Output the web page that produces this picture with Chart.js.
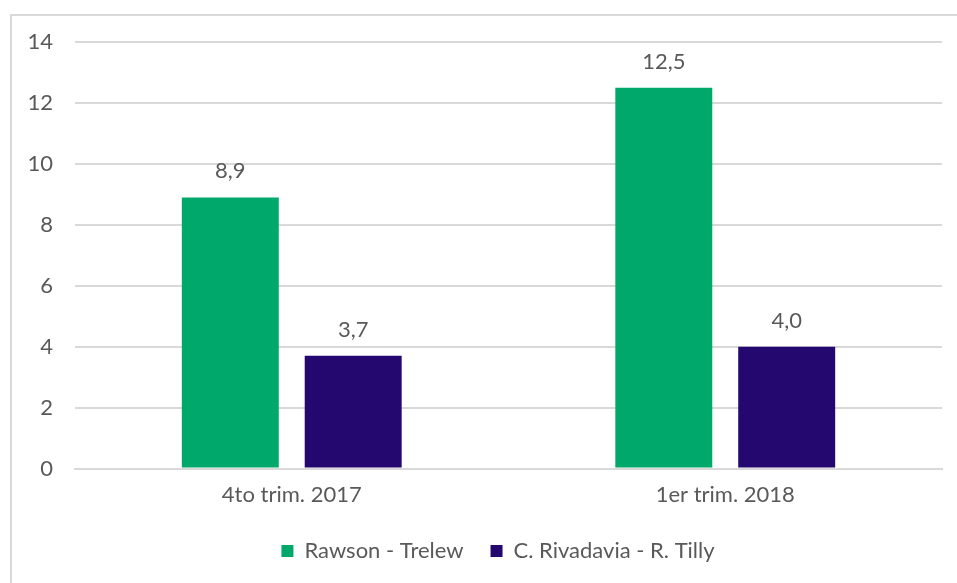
<!DOCTYPE html>
<html>
<head>
<meta charset="utf-8">
<script src="https://cdn.jsdelivr.net/npm/chart.js@4/dist/chart.umd.min.js"></script>
<style>
    body { margin: 0; background: #fff; overflow: hidden; }
    #frame { position: absolute; left: 10px; top: 14px; width: 960px; height: 590px; border: 2px solid #d9d9d9; }
    #wrap { position: absolute; left: 0; top: 0; width: 957px; height: 583px; }
</style>
</head>
<body>
<div id="frame"></div>
<div id="wrap"><canvas id="myChart"></canvas></div>
<script>
// chart data
const categories = ['4to trim. 2017', '1er trim. 2018'];
const seriesNames = ['Rawson - Trelew', 'C. Rivadavia - R. Tilly'];
const rawsonTrelew = [8.9, 12.5];
const rivadaviaTilly = [3.7, 4.0];
const seriesColors = ['#00a96b', '#240870'];

const textGray = '#595959';
const fontFamily = 'Lato, "Open Sans", sans-serif';
const fontSize = 22;

//value labels above bars, comma decimal
const valueLabels = {
    id: 'valueLabels',
    afterLayout(chart) {
        //legend sits a bit right of center in the original
        chart.legend.left += 22;
        chart.legend.right += 22;
    },
    afterDatasetsDraw(chart) {
        let ctx = chart.ctx;
        ctx.save();
        ctx.fillStyle = textGray;
        ctx.font = fontSize + 'px ' + fontFamily;
        ctx.textAlign = 'center';
        ctx.textBaseline = 'middle';
        chart.data.datasets.forEach(function (ds, i) {
            chart.getDatasetMeta(i).data.forEach(function (bar, j) {
                let txt = ds.data[j].toFixed(1).replace('.', ',');
                ctx.fillText(txt, bar.x, bar.y - 26);
            });
        });
        ctx.restore();
    }
};

new Chart(document.getElementById('myChart'), {
    type: 'bar',
    data: {
        labels: categories,
        datasets: [{
            label: seriesNames[0],
            data: rawsonTrelew,
            backgroundColor: seriesColors[0]
        }, {
            label: seriesNames[1],
            data: rivadaviaTilly,
            backgroundColor: seriesColors[1]
        }]
    },
    options: {
        responsive: true,
        maintainAspectRatio: false,
        animation: false,
        categoryPercentage: 0.567,
        barPercentage: 0.789,
        layout: {
            padding: {left: 10, right: 15, top: 42, bottom: 11}
        },
        plugins: {
            legend: {
                position: 'bottom',
                labels: {
                    color: textGray,
                    font: {family: fontFamily, size: fontSize},
                    boxWidth: 12,
                    boxHeight: 12,
                    padding: 27
                }
            },
            tooltip: {enabled: false}
        },
        scales: {
            x: {
                grid: {display: false},
                border: {color: '#d9d9d9', width: 2},
                ticks: {color: textGray, font: {family: fontFamily, size: fontSize}, padding: 5}
            },
            y: {
                min: 0,
                max: 14,
                ticks: {stepSize: 2, color: textGray, font: {family: fontFamily, size: fontSize}, padding: 22},
                grid: {color: '#d9d9d9', lineWidth: 2, drawTicks: false},
                border: {display: false},
                afterFit: function (s) { s.width = 65; }
            }
        }
    },
    plugins: [valueLabels]
});
</script>
</body>
</html>
